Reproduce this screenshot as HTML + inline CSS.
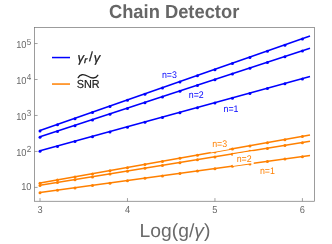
<!DOCTYPE html>
<html><head><meta charset="utf-8"><title>Chain Detector</title>
<style>
html,body{margin:0;padding:0;background:#fff;}
body{width:332px;height:244px;overflow:hidden;}
svg{display:block;will-change:transform;}
text{font-family:"Liberation Sans",sans-serif;text-rendering:geometricPrecision;}
.tk{font-size:10.1px;fill:#6a6a6a;}
.tks{font-size:8.8px;fill:#6a6a6a;}
.lb{font-size:9.6px;fill:#0000ff;}
.lo{font-size:9.6px;fill:#ff8000;}
</style></head><body>
<svg width="332" height="244" viewBox="0 0 332 244">
<rect width="332" height="244" fill="#fff"/>
<text transform="translate(174.1,17.9) scale(0.965,1)" text-anchor="middle" font-size="19.0" font-weight="bold" fill="#666">Chain Detector</text>
<text transform="translate(174.9,237.3) scale(1.017,1)" text-anchor="middle" font-size="19" fill="#6a6a6a">Log(g/<tspan font-style="italic">γ</tspan>)</text>
<line x1="40.00" y1="150.80" x2="310.00" y2="76.50" stroke="#0000ff" stroke-width="1.55"/>
<circle cx="40.00" cy="151.20" r="1.5" fill="#0000ff"/>
<circle cx="57.49" cy="146.39" r="1.5" fill="#0000ff"/>
<circle cx="74.99" cy="141.57" r="1.5" fill="#0000ff"/>
<circle cx="92.48" cy="136.76" r="1.5" fill="#0000ff"/>
<circle cx="109.98" cy="131.94" r="1.5" fill="#0000ff"/>
<circle cx="127.47" cy="127.13" r="1.5" fill="#0000ff"/>
<circle cx="144.96" cy="122.32" r="1.5" fill="#0000ff"/>
<circle cx="162.46" cy="117.50" r="1.5" fill="#0000ff"/>
<circle cx="179.95" cy="112.69" r="1.5" fill="#0000ff"/>
<circle cx="197.45" cy="107.87" r="1.5" fill="#0000ff"/>
<circle cx="214.94" cy="103.06" r="1.5" fill="#0000ff"/>
<circle cx="232.43" cy="98.25" r="1.5" fill="#0000ff"/>
<circle cx="249.93" cy="93.43" r="1.5" fill="#0000ff"/>
<circle cx="267.42" cy="88.62" r="1.5" fill="#0000ff"/>
<circle cx="284.92" cy="83.80" r="1.5" fill="#0000ff"/>
<circle cx="302.41" cy="78.99" r="1.5" fill="#0000ff"/>
<line x1="40.00" y1="136.80" x2="310.00" y2="48.20" stroke="#0000ff" stroke-width="1.55"/>
<circle cx="40.00" cy="137.20" r="1.5" fill="#0000ff"/>
<circle cx="57.49" cy="131.46" r="1.5" fill="#0000ff"/>
<circle cx="74.99" cy="125.72" r="1.5" fill="#0000ff"/>
<circle cx="92.48" cy="119.98" r="1.5" fill="#0000ff"/>
<circle cx="109.98" cy="114.24" r="1.5" fill="#0000ff"/>
<circle cx="127.47" cy="108.50" r="1.5" fill="#0000ff"/>
<circle cx="144.96" cy="102.76" r="1.5" fill="#0000ff"/>
<circle cx="162.46" cy="97.02" r="1.5" fill="#0000ff"/>
<circle cx="179.95" cy="91.28" r="1.5" fill="#0000ff"/>
<circle cx="197.45" cy="85.53" r="1.5" fill="#0000ff"/>
<circle cx="214.94" cy="79.79" r="1.5" fill="#0000ff"/>
<circle cx="232.43" cy="74.05" r="1.5" fill="#0000ff"/>
<circle cx="249.93" cy="68.31" r="1.5" fill="#0000ff"/>
<circle cx="267.42" cy="62.57" r="1.5" fill="#0000ff"/>
<circle cx="284.92" cy="56.83" r="1.5" fill="#0000ff"/>
<circle cx="302.41" cy="51.09" r="1.5" fill="#0000ff"/>
<line x1="40.00" y1="130.60" x2="310.00" y2="36.00" stroke="#0000ff" stroke-width="1.55"/>
<circle cx="40.00" cy="131.00" r="1.5" fill="#0000ff"/>
<circle cx="57.49" cy="124.87" r="1.5" fill="#0000ff"/>
<circle cx="74.99" cy="118.74" r="1.5" fill="#0000ff"/>
<circle cx="92.48" cy="112.61" r="1.5" fill="#0000ff"/>
<circle cx="109.98" cy="106.48" r="1.5" fill="#0000ff"/>
<circle cx="127.47" cy="100.35" r="1.5" fill="#0000ff"/>
<circle cx="144.96" cy="94.22" r="1.5" fill="#0000ff"/>
<circle cx="162.46" cy="88.09" r="1.5" fill="#0000ff"/>
<circle cx="179.95" cy="81.96" r="1.5" fill="#0000ff"/>
<circle cx="197.45" cy="75.84" r="1.5" fill="#0000ff"/>
<circle cx="214.94" cy="69.71" r="1.5" fill="#0000ff"/>
<circle cx="232.43" cy="63.58" r="1.5" fill="#0000ff"/>
<circle cx="249.93" cy="57.45" r="1.5" fill="#0000ff"/>
<circle cx="267.42" cy="51.32" r="1.5" fill="#0000ff"/>
<circle cx="284.92" cy="45.19" r="1.5" fill="#0000ff"/>
<circle cx="302.41" cy="39.06" r="1.5" fill="#0000ff"/>
<line x1="40.00" y1="192.60" x2="310.00" y2="155.50" stroke="#ff8000" stroke-width="1.55"/>
<circle cx="40.00" cy="192.75" r="1.5" fill="#ff8000"/>
<circle cx="57.49" cy="190.35" r="1.5" fill="#ff8000"/>
<circle cx="74.99" cy="187.94" r="1.5" fill="#ff8000"/>
<circle cx="92.48" cy="185.54" r="1.5" fill="#ff8000"/>
<circle cx="109.98" cy="183.13" r="1.5" fill="#ff8000"/>
<circle cx="127.47" cy="180.73" r="1.5" fill="#ff8000"/>
<circle cx="144.96" cy="178.33" r="1.5" fill="#ff8000"/>
<circle cx="162.46" cy="175.92" r="1.5" fill="#ff8000"/>
<circle cx="179.95" cy="173.52" r="1.5" fill="#ff8000"/>
<circle cx="197.45" cy="171.12" r="1.5" fill="#ff8000"/>
<circle cx="214.94" cy="168.71" r="1.5" fill="#ff8000"/>
<circle cx="232.43" cy="166.31" r="1.5" fill="#ff8000"/>
<circle cx="249.93" cy="163.90" r="1.5" fill="#ff8000"/>
<circle cx="267.42" cy="161.50" r="1.5" fill="#ff8000"/>
<circle cx="284.92" cy="159.10" r="1.5" fill="#ff8000"/>
<circle cx="302.41" cy="156.69" r="1.5" fill="#ff8000"/>
<line x1="40.00" y1="185.30" x2="310.00" y2="141.36" stroke="#ff8000" stroke-width="1.55"/>
<circle cx="40.00" cy="185.45" r="1.5" fill="#ff8000"/>
<circle cx="57.49" cy="182.60" r="1.5" fill="#ff8000"/>
<circle cx="74.99" cy="179.76" r="1.5" fill="#ff8000"/>
<circle cx="92.48" cy="176.91" r="1.5" fill="#ff8000"/>
<circle cx="109.98" cy="174.06" r="1.5" fill="#ff8000"/>
<circle cx="127.47" cy="171.22" r="1.5" fill="#ff8000"/>
<circle cx="144.96" cy="168.37" r="1.5" fill="#ff8000"/>
<circle cx="162.46" cy="165.52" r="1.5" fill="#ff8000"/>
<circle cx="179.95" cy="162.67" r="1.5" fill="#ff8000"/>
<circle cx="197.45" cy="159.83" r="1.5" fill="#ff8000"/>
<circle cx="214.94" cy="156.98" r="1.5" fill="#ff8000"/>
<circle cx="232.43" cy="154.13" r="1.5" fill="#ff8000"/>
<circle cx="249.93" cy="151.29" r="1.5" fill="#ff8000"/>
<circle cx="267.42" cy="148.44" r="1.5" fill="#ff8000"/>
<circle cx="284.92" cy="145.59" r="1.5" fill="#ff8000"/>
<circle cx="302.41" cy="142.75" r="1.5" fill="#ff8000"/>
<line x1="40.00" y1="183.07" x2="310.00" y2="135.07" stroke="#ff8000" stroke-width="1.55"/>
<circle cx="40.00" cy="183.22" r="1.5" fill="#ff8000"/>
<circle cx="57.49" cy="180.11" r="1.5" fill="#ff8000"/>
<circle cx="74.99" cy="177.00" r="1.5" fill="#ff8000"/>
<circle cx="92.48" cy="173.89" r="1.5" fill="#ff8000"/>
<circle cx="109.98" cy="170.78" r="1.5" fill="#ff8000"/>
<circle cx="127.47" cy="167.67" r="1.5" fill="#ff8000"/>
<circle cx="144.96" cy="164.56" r="1.5" fill="#ff8000"/>
<circle cx="162.46" cy="161.45" r="1.5" fill="#ff8000"/>
<circle cx="179.95" cy="158.34" r="1.5" fill="#ff8000"/>
<circle cx="197.45" cy="155.23" r="1.5" fill="#ff8000"/>
<circle cx="214.94" cy="152.12" r="1.5" fill="#ff8000"/>
<circle cx="232.43" cy="149.01" r="1.5" fill="#ff8000"/>
<circle cx="249.93" cy="145.90" r="1.5" fill="#ff8000"/>
<circle cx="267.42" cy="142.79" r="1.5" fill="#ff8000"/>
<circle cx="284.92" cy="139.68" r="1.5" fill="#ff8000"/>
<circle cx="302.41" cy="136.57" r="1.5" fill="#ff8000"/>
<!-- label backgrounds -->
<polygon points="210.7,139.5 229.1,139.5 229.1,149.20 210.7,152.47" fill="#fff"/>
<polygon points="232.8,154.17 251.3,151.16 253.7,151.42 253.7,164.14 251.3,164.47 251.3,163.37 232.8,165.91" fill="#fff"/>
<text transform="translate(169.4,77.8) scale(0.92,1)" text-anchor="middle" class="lb">n=3</text>
<text transform="translate(196.3,98.1) scale(0.92,1)" text-anchor="middle" class="lb">n=2</text>
<text transform="translate(231.0,112.2) scale(0.92,1)" text-anchor="middle" class="lb">n=1</text>
<text transform="translate(219.7,147.3) scale(0.92,1)" text-anchor="middle" class="lo">n=3</text>
<text transform="translate(244.2,162.4) scale(0.92,1)" text-anchor="middle" class="lo">n=2</text>
<text transform="translate(267.4,173.7) scale(0.92,1)" text-anchor="middle" class="lo">n=1</text>
<rect x="34.56" y="27.4" width="279.87" height="173.86" fill="none" stroke="#737373" stroke-width="0.7"/>
<line x1="34.56" y1="187.40" x2="37.6" y2="187.40" stroke="#707070" stroke-width="0.65"/>
<line x1="34.56" y1="151.43" x2="37.6" y2="151.43" stroke="#707070" stroke-width="0.65"/>
<line x1="34.56" y1="115.46" x2="37.6" y2="115.46" stroke="#707070" stroke-width="0.65"/>
<line x1="34.56" y1="79.49" x2="37.6" y2="79.49" stroke="#707070" stroke-width="0.65"/>
<line x1="34.56" y1="43.52" x2="37.6" y2="43.52" stroke="#707070" stroke-width="0.65"/>
<line x1="40.00" y1="201.26" x2="40.00" y2="198.1" stroke="#707070" stroke-width="0.65"/>
<line x1="127.47" y1="201.26" x2="127.47" y2="198.1" stroke="#707070" stroke-width="0.65"/>
<line x1="214.94" y1="201.26" x2="214.94" y2="198.1" stroke="#707070" stroke-width="0.65"/>
<line x1="302.41" y1="201.26" x2="302.41" y2="198.1" stroke="#707070" stroke-width="0.65"/>
<text transform="translate(31.50,190.00) scale(0.92,1)" text-anchor="end" class="tk" >10</text>
<text transform="translate(26.50,155.95) scale(0.92,1)" text-anchor="end" class="tk" >10</text><text transform="translate(26.80,152.43) scale(0.92,1)" text-anchor="start" class="tks" >2</text>
<text transform="translate(26.50,119.98) scale(0.92,1)" text-anchor="end" class="tk" >10</text><text transform="translate(26.80,116.46) scale(0.92,1)" text-anchor="start" class="tks" >3</text>
<text transform="translate(26.50,84.01) scale(0.92,1)" text-anchor="end" class="tk" >10</text><text transform="translate(26.80,80.49) scale(0.92,1)" text-anchor="start" class="tks" >4</text>
<text transform="translate(26.50,48.04) scale(0.92,1)" text-anchor="end" class="tk" >10</text><text transform="translate(26.80,44.52) scale(0.92,1)" text-anchor="start" class="tks" >5</text>
<text transform="translate(40.00,212.90) scale(0.92,1)" text-anchor="middle" class="tk" >3</text>
<text transform="translate(127.47,212.90) scale(0.92,1)" text-anchor="middle" class="tk" >4</text>
<text transform="translate(214.94,212.90) scale(0.92,1)" text-anchor="middle" class="tk" >5</text>
<text transform="translate(302.41,212.90) scale(0.92,1)" text-anchor="middle" class="tk" >6</text>
<!-- legend -->
<line x1="52.0" y1="57.55" x2="70.0" y2="57.55" stroke="#0000ff" stroke-width="1.5"/>
<line x1="52.0" y1="84.05" x2="70.0" y2="84.05" stroke="#ff8000" stroke-width="1.5"/>
<text x="77.4" y="62.0" font-size="13" font-style="italic" fill="#222" stroke="#222" stroke-width="0.25">γ</text>
<text transform="translate(84.0,63.2) scale(1.15,1)" font-size="8.6" font-style="italic" fill="#222" stroke="#222" stroke-width="0.3">r</text>
<text transform="translate(88.9,61.2) skewX(-1)" font-size="13.2" fill="#222" stroke="#222" stroke-width="0.25">/</text>
<text x="93.8" y="62.0" font-size="13" font-style="italic" fill="#222" stroke="#222" stroke-width="0.25">γ</text>
<text transform="translate(76.7,88.1) scale(0.935,1)" font-size="11.6" fill="#222" stroke="#222" stroke-width="0.2">SNR</text>
<path d="M78.2 77.6 C80.0 74.2 83.5 73.8 87.9 76.3 S95.5 79.0 97.8 75.3" fill="none" stroke="#222" stroke-width="1.3" stroke-linecap="round"/>
</svg>
</body></html>
